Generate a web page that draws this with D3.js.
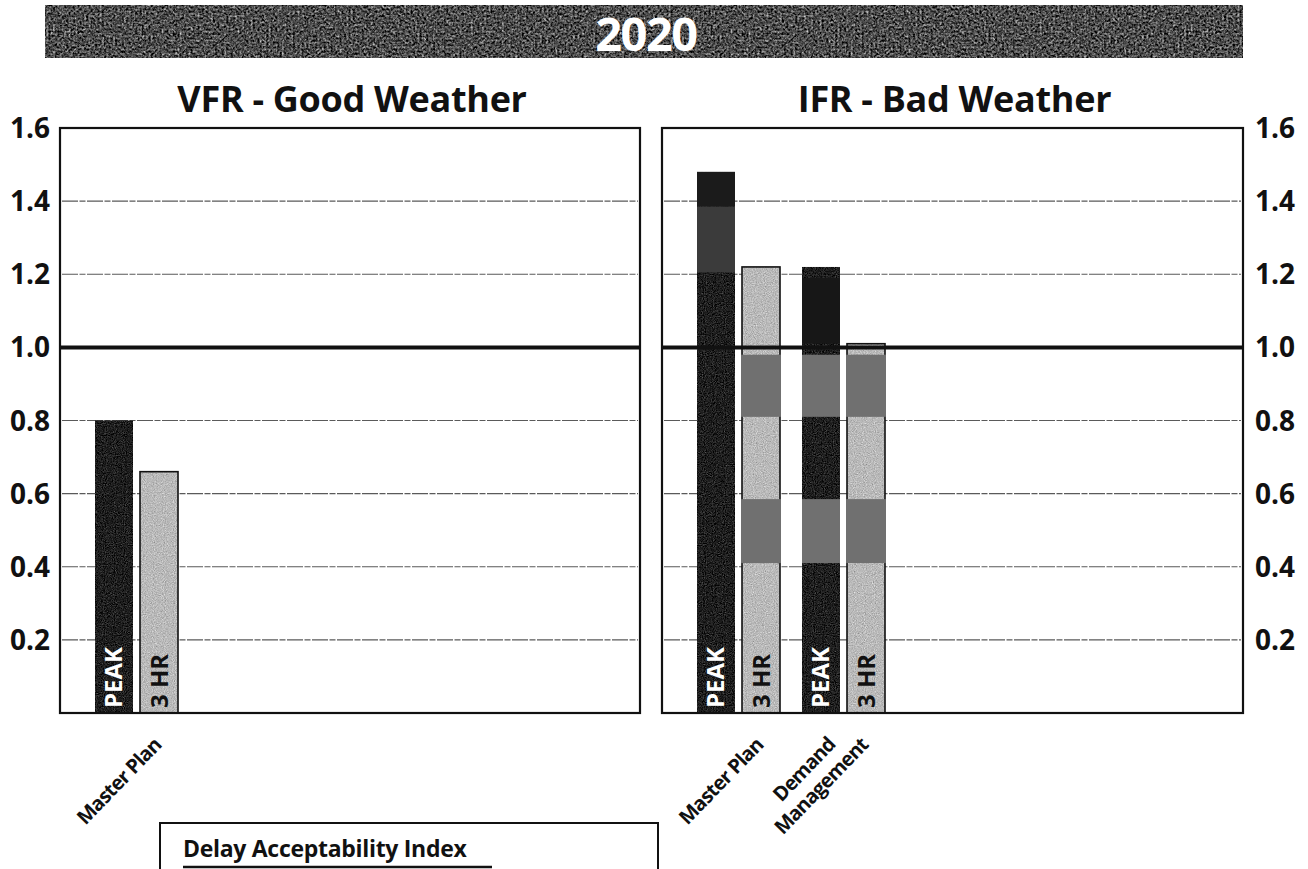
<!DOCTYPE html>
<html>
<head>
<meta charset="utf-8">
<script src="https://cdn.jsdelivr.net/npm/d3@7"></script>
<style>
  html, body { margin: 0; padding: 0; background: #fff; }
  svg { display: block; }
  text { font-family: "Open Sans", "Noto Sans", sans-serif; font-weight: 700; }
</style>
</head>
<body>
<svg id="chart" width="1308" height="869"></svg>
<script>
// ---- data ----
const yearLabel = "2020";
const panelTitles = ["VFR - Good Weather", "IFR - Bad Weather"];
const measures = ["PEAK", "3 HR"];

const vfrScenarios = ["Master Plan"];
const vfrPeak = [0.80];
const vfr3Hr = [0.66];

const ifrScenarios = ["Master Plan", "Demand\nManagement"];
const ifrPeak = [1.48, 1.22];
const ifr3Hr = [1.22, 1.01];

const yTicks = [0.2, 0.4, 0.6, 0.8, 1.0, 1.2, 1.4, 1.6];
const yTickLabels = ["0.2", "0.4", "0.6", "0.8", "1.0", "1.2", "1.4", "1.6"];
const threshold = 1.0;

// tonal bands printed over the IFR bars (scenario index, measure, value range, tone)
const ifrToneBands = [
  { s: 0, m: "PEAK", lo: 1.385, hi: 1.48, tone: "#1b1b1b" },
  { s: 0, m: "PEAK", lo: 1.205, hi: 1.385, tone: "#3b3b3b" },
  { s: 1, m: "PEAK", lo: 1.01, hi: 1.19, tone: "#171717" },
  { s: 0, m: "3 HR", lo: 0.81, hi: 0.98, tone: "#707070" },
  { s: 0, m: "3 HR", lo: 0.41, hi: 0.585, tone: "#707070" },
  { s: 1, m: "PEAK", lo: 0.81, hi: 0.98, tone: "#707070" },
  { s: 1, m: "PEAK", lo: 0.41, hi: 0.585, tone: "#707070" },
  { s: 1, m: "3 HR", lo: 0.81, hi: 0.98, tone: "#707070" },
  { s: 1, m: "3 HR", lo: 0.41, hi: 0.585, tone: "#707070" }
];

const legendTitle = "Delay Acceptability Index";

// ---- layout ----
const plotTop = 128, plotBottom = 713;
const panelX = [[60, 640], [662, 1243]];
const slotCount = 5;

const svg = d3.select("#chart");
const defs = svg.append("defs");

function grainFilter(id, amp, freq, seed) {
  const f = defs.append("filter").attr("id", id)
    .attr("x", 0).attr("y", 0).attr("width", 1).attr("height", 1)
    .attr("color-interpolation-filters", "sRGB");
  f.append("feTurbulence").attr("type", "fractalNoise")
    .attr("baseFrequency", freq).attr("numOctaves", 2).attr("seed", seed).attr("result", "noise");
  f.append("feColorMatrix").attr("in", "noise").attr("type", "matrix")
    .attr("values", "0.33 0.33 0.33 0 0  0.33 0.33 0.33 0 0  0.33 0.33 0.33 0 0  0 0 0 0 1")
    .attr("result", "gray");
  f.append("feComposite").attr("in", "gray").attr("in2", "SourceGraphic")
    .attr("operator", "arithmetic").attr("k1", 0).attr("k2", amp).attr("k3", 1).attr("k4", -amp * 0.5)
    .attr("result", "mix");
  f.append("feComposite").attr("in", "mix").attr("in2", "SourceGraphic").attr("operator", "in");
}
grainFilter("grainDark", 0.9, 0.9, 3);
grainFilter("grainLight", 0.7, 0.9, 7);
grainFilter("grainBanner", 2.0, 0.45, 11);

const y = d3.scaleLinear().domain([0, 1.6]).range([plotBottom, plotTop]);

// ---- year banner ----
svg.append("rect")
  .attr("x", 45).attr("y", 5).attr("width", 1198).attr("height", 53)
  .attr("fill", "#4e4e4e").attr("filter", "url(#grainBanner)");
svg.append("text")
  .attr("x", 646).attr("y", 51)
  .attr("text-anchor", "middle")
  .attr("font-size", 47).attr("fill", "#fff")
  .attr("letter-spacing", -1.5)
  .text(yearLabel);

// ---- panels ----
const panelData = [
  { title: panelTitles[0], scenarios: vfrScenarios, peak: vfrPeak, hr3: vfr3Hr, bands: [] },
  { title: panelTitles[1], scenarios: ifrScenarios, peak: ifrPeak, hr3: ifr3Hr, bands: ifrToneBands }
];

panelData.forEach((p, pi) => {
  const [x0, x1] = panelX[pi];
  const g = svg.append("g");

  // slot scale for scenario groups, inner scale for the two measures
  const xSlot = d3.scaleBand().domain(d3.range(slotCount))
    .range([x0 + 35, x0 + 35 + slotCount * 105 - 22])
    .paddingInner(0.2095).paddingOuter(0).align(0);
  const xMeasure = d3.scaleBand().domain(measures)
    .range([0, xSlot.bandwidth()]).paddingInner(0.1556).paddingOuter(0);

  // title
  g.append("text")
    .attr("x", (x0 + x1) / 2 + 2).attr("y", 112)
    .attr("text-anchor", "middle").attr("font-size", 36).attr("fill", "#111")
    .attr("letter-spacing", -0.3)
    .text(p.title);

  // grid lines
  const grid = g.append("g");
  grid.selectAll("line").data(yTicks.filter(t => t !== threshold && t < 1.6)).join("line")
    .attr("x1", x0 + 2).attr("x2", x1 - 2)
    .attr("y1", d => y(d)).attr("y2", d => y(d))
    .attr("stroke", "#5a5a5a").attr("stroke-width", 1.2)
    .attr("stroke-dasharray", "16 1.5 6 1.5");

  // bars
  const rows = [];
  p.scenarios.forEach((s, i) => {
    rows.push({ s: i, m: "PEAK", v: p.peak[i] });
    rows.push({ s: i, m: "3 HR", v: p.hr3[i] });
  });
  const bx = d => xSlot(d.s) + xMeasure(d.m);
  const bw = xMeasure.bandwidth();

  g.append("g").selectAll("rect").data(rows).join("rect")
    .attr("x", bx).attr("width", bw)
    .attr("y", d => y(d.v)).attr("height", d => y(0) - y(d.v))
    .attr("fill", d => d.m === "PEAK" ? "#1f1f1f" : "#bababa")
    .attr("filter", d => d.m === "PEAK" ? "url(#grainDark)" : "url(#grainLight)");
  // outlines on the lighter bars
  g.append("g").selectAll("rect").data(rows.filter(d => d.m === "3 HR")).join("rect")
    .attr("x", bx).attr("width", bw)
    .attr("y", d => y(d.v)).attr("height", d => y(0) - y(d.v))
    .attr("fill", "none").attr("stroke", "#111").attr("stroke-width", 1.6);

  // tonal bands
  g.append("g").selectAll("rect").data(p.bands).join("rect")
    .attr("x", d => bx(d) - (d.m === "3 HR" ? 1 : 0))
    .attr("width", d => bw + (d.m === "3 HR" ? 2 : 0))
    .attr("y", d => y(d.hi)).attr("height", d => y(d.lo) - y(d.hi))
    .attr("fill", d => d.tone);

  // threshold line
  g.append("line")
    .attr("x1", x0).attr("x2", x1)
    .attr("y1", y(threshold)).attr("y2", y(threshold))
    .attr("stroke", "#111").attr("stroke-width", 4);

  // labels inside bars
  g.append("g").selectAll("text").data(rows).join("text")
    .attr("transform", d => `translate(${bx(d) + bw / 2 + 8.5},${y(0) - 5}) rotate(-90)`)
    .attr("font-size", 24)
    .attr("fill", d => d.m === "PEAK" ? "#fff" : "#111")
    .text(d => d.m);

  // frame
  g.append("rect")
    .attr("x", x0).attr("y", plotTop).attr("width", x1 - x0).attr("height", plotBottom - plotTop)
    .attr("fill", "none").attr("stroke", "#111").attr("stroke-width", 2.2);

  // scenario labels, rotated
  p.scenarios.forEach((s, i) => {
    const cx = xSlot(i) + xSlot.bandwidth() / 2;
    const lines = s.split("\n");
    const t = g.append("text")
      .attr("font-size", 20).attr("fill", "#111")
      .attr("letter-spacing", -0.8)
      .attr("text-anchor", "middle");
    lines.forEach((ln, li) => {
      t.append("tspan").attr("x", 0).attr("dy", li === 0 ? 0 : 24).text(ln);
    });
    const widths = [];
    t.selectAll("tspan").each(function () { widths.push(this.getComputedTextLength()); });
    const wMax = d3.max(widths);
    const lh = 24 * (lines.length - 1);
    t.attr("transform",
      `translate(${cx + 26},${y(0) + 33}) rotate(-46) translate(${-wMax / 2},${-lh})`);
  });
});

// ---- y axis labels on both sides ----
svg.append("g").selectAll("text").data(yTicks).join("text")
  .attr("x", 50).attr("y", d => y(d) + 10)
  .attr("text-anchor", "end").attr("font-size", 28).attr("fill", "#111")
  .text((d, i) => yTickLabels[i]);
svg.append("g").selectAll("text").data(yTicks).join("text")
  .attr("x", 1255).attr("y", d => y(d) + 10)
  .attr("text-anchor", "start").attr("font-size", 28).attr("fill", "#111")
  .text((d, i) => yTickLabels[i]);

// ---- legend box ----
const legend = svg.append("g");
legend.append("rect")
  .attr("x", 160).attr("y", 823).attr("width", 498).attr("height", 80)
  .attr("fill", "#fff").attr("stroke", "#111").attr("stroke-width", 2);
legend.append("text")
  .attr("x", 183).attr("y", 857).attr("font-size", 23).attr("fill", "#111")
  .attr("letter-spacing", -0.3)
  .text(legendTitle);
legend.append("line")
  .attr("x1", 183).attr("x2", 492).attr("y1", 867).attr("y2", 867)
  .attr("stroke", "#111").attr("stroke-width", 2.5);
</script>
</body>
</html>
